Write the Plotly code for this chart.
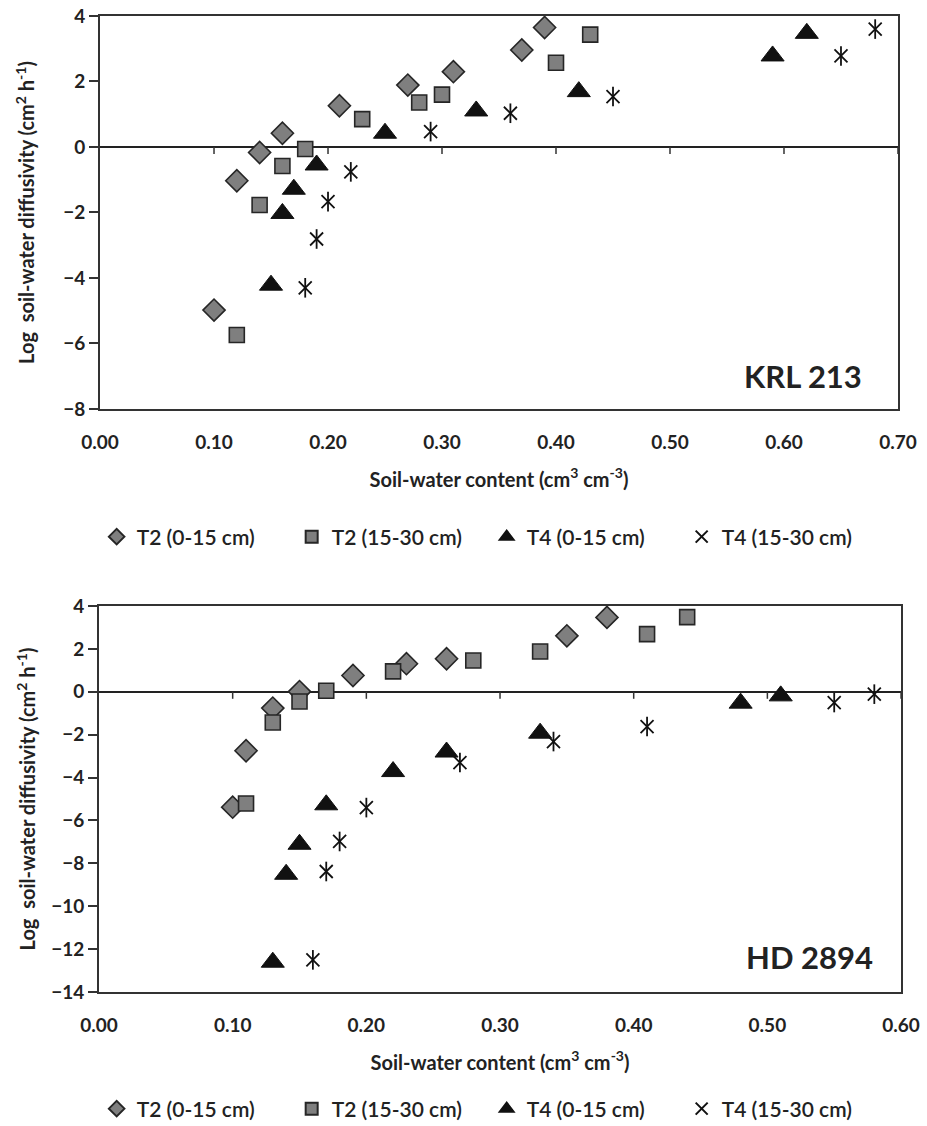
import plotly.graph_objects as go

# ---------------- data: KRL 213 (top) ----------------
krl_t2_0_15_x = [0.10, 0.12, 0.14, 0.16, 0.21, 0.27, 0.31, 0.37, 0.39]
krl_t2_0_15_y = [-4.98, -1.03, -0.17, 0.42, 1.26, 1.89, 2.30, 2.96, 3.65]
krl_t2_15_30_x = [0.12, 0.14, 0.16, 0.18, 0.23, 0.28, 0.30, 0.40, 0.43]
krl_t2_15_30_y = [-5.74, -1.77, -0.58, -0.06, 0.85, 1.36, 1.60, 2.57, 3.43]
krl_t4_0_15_x = [0.15, 0.16, 0.17, 0.19, 0.25, 0.33, 0.42, 0.59, 0.62]
krl_t4_0_15_y = [-4.22, -2.03, -1.29, -0.55, 0.42, 1.10, 1.69, 2.78, 3.47]
krl_t4_15_30_x = [0.18, 0.19, 0.20, 0.22, 0.29, 0.36, 0.45, 0.65, 0.68]
krl_t4_15_30_y = [-4.30, -2.81, -1.67, -0.76, 0.47, 1.03, 1.54, 2.78, 3.60]

# ---------------- data: HD 2894 (bottom) ----------------
hd_t2_0_15_x = [0.10, 0.11, 0.13, 0.15, 0.19, 0.23, 0.26, 0.35, 0.38]
hd_t2_0_15_y = [-5.38, -2.75, -0.76, 0.01, 0.76, 1.31, 1.54, 2.61, 3.47]
hd_t2_15_30_x = [0.11, 0.13, 0.15, 0.17, 0.22, 0.28, 0.33, 0.41, 0.44]
hd_t2_15_30_y = [-5.21, -1.43, -0.45, 0.05, 0.95, 1.46, 1.88, 2.69, 3.48]
hd_t4_0_15_x = [0.13, 0.14, 0.15, 0.17, 0.22, 0.26, 0.33, 0.48, 0.51]
hd_t4_0_15_y = [-12.61, -8.51, -7.11, -5.27, -3.72, -2.81, -1.93, -0.53, -0.19]
hd_t4_15_30_x = [0.16, 0.17, 0.18, 0.20, 0.27, 0.34, 0.41, 0.55, 0.58]
hd_t4_15_30_y = [-12.50, -8.38, -6.98, -5.40, -3.30, -2.32, -1.62, -0.50, -0.11]

series_names = ["T2 (0-15 cm)", "T2 (15-30 cm)", "T4 (0-15 cm)", "T4 (15-30 cm)"]
top_xticks = [0.0, 0.1, 0.2, 0.3, 0.4, 0.5, 0.6, 0.7]
bot_xticks = [0.0, 0.1, 0.2, 0.3, 0.4, 0.5, 0.6]
top_yticks = [-8, -6, -4, -2, 0, 2, 4]
bot_yticks = [-14, -12, -10, -8, -6, -4, -2, 0, 2, 4]
panel_labels = ["KRL 213", "HD 2894"]

FONT = "Lato"
GRAY = "#7f7f7f"
EDGE = "#262626"
BLACK = "#111111"
TXT = "#222222"

fig = go.Figure()


def add_panel(xa, ya, leg, data):
    (x1, y1), (x2, y2), (x3, y3), (x4, y4) = data
    fig.add_trace(go.Scatter(x=x1, y=y1, mode="markers", name=series_names[0],
                             xaxis=xa, yaxis=ya, legend=leg,
                             marker=dict(symbol="diamond", size=17, color=GRAY,
                                         line=dict(color=EDGE, width=1.6))))
    fig.add_trace(go.Scatter(x=x2, y=y2, mode="markers", name=series_names[1],
                             xaxis=xa, yaxis=ya, legend=leg,
                             marker=dict(symbol="square", size=15, color=GRAY,
                                         line=dict(color=EDGE, width=1.6))))
    fig.add_trace(go.Scatter(x=x3, y=y3, mode="markers", name=series_names[2],
                             xaxis=xa, yaxis=ya, legend=leg,
                             marker=dict(symbol="triangle-up", size=20, color=BLACK,
                                         line=dict(color=BLACK, width=1))))
    fig.add_trace(go.Scatter(x=x4, y=y4, mode="markers", name=series_names[3],
                             xaxis=xa, yaxis=ya, legend=leg,
                             marker=dict(symbol="x-thin-open", size=13, color=BLACK,
                                         line=dict(color=BLACK, width=1.8))))
    fig.add_trace(go.Scatter(x=x4, y=y4, mode="markers", name=series_names[3],
                             xaxis=xa, yaxis=ya, showlegend=False, hoverinfo="skip",
                             marker=dict(symbol="line-ns-open", size=14, color=BLACK,
                                         line=dict(color=BLACK, width=1.8))))


add_panel("x", "y", "legend",
          [(krl_t2_0_15_x, krl_t2_0_15_y), (krl_t2_15_30_x, krl_t2_15_30_y),
           (krl_t4_0_15_x, krl_t4_0_15_y), (krl_t4_15_30_x, krl_t4_15_30_y)])
add_panel("x2", "y2", "legend2",
          [(hd_t2_0_15_x, hd_t2_0_15_y), (hd_t2_15_30_x, hd_t2_15_30_y),
           (hd_t4_0_15_x, hd_t4_0_15_y), (hd_t4_15_30_x, hd_t4_15_30_y)])

tickfont = dict(family=FONT, size=19, color=TXT, weight="bold")
titlefont = dict(family=FONT, size=20, color=TXT, weight="bold")

xcommon = dict(showline=True, mirror=True, linecolor="#333333", linewidth=2,
               showgrid=False, zeroline=False, ticks="outside", ticklen=15,
               tickcolor="rgba(0,0,0,0)", tickformat=".2f", tickfont=tickfont,
               automargin=False,
               title=dict(text="Soil-water content (cm<sup>3</sup> cm<sup>-3</sup>)",
                          font=titlefont, standoff=21))
ycommon = dict(showline=True, mirror=True, linecolor="#333333", linewidth=2,
               showgrid=False, zeroline=True, zerolinecolor="#222222", zerolinewidth=1.5,
               ticks="outside", ticklen=9, tickwidth=1.5, tickcolor="#333333",
               tickfont=tickfont, automargin=False)
ytitle = "Log  soil-water diffusivity (cm<sup>2</sup> h<sup>-1</sup>)"

legfont = dict(family=FONT, size=21, color=TXT, weight=600)

fig.update_layout(
    width=927, height=1126,
    margin=dict(l=0, r=0, t=0, b=0, autoexpand=False),
    paper_bgcolor="white", plot_bgcolor="white",
    showlegend=True,
    xaxis=dict(xcommon, domain=[0.1079, 0.9687], range=[0, 0.7], tickvals=top_xticks, anchor="y"),
    yaxis=dict(ycommon, domain=[0.6368, 0.9858], range=[-8, 4], tickvals=top_yticks, anchor="x",
               title=dict(text=ytitle, font=titlefont, standoff=23)),
    xaxis2=dict(xcommon, domain=[0.1068, 0.9720], range=[0, 0.6], tickvals=bot_xticks, anchor="y2"),
    yaxis2=dict(ycommon, domain=[0.1190, 0.4618], range=[-14, 4], tickvals=bot_yticks, anchor="x2",
                title=dict(text=ytitle, font=titlefont, standoff=10)),
    legend=dict(orientation="h", x=0.525, xanchor="center", y=1 - 537 / 1126, yanchor="middle",
                font=legfont, entrywidth=150, itemwidth=30,
                itemsizing="constant", bgcolor="rgba(0,0,0,0)"),
    legend2=dict(orientation="h", x=0.525, xanchor="center", y=1 - 1109 / 1126, yanchor="middle",
                 font=legfont, entrywidth=150, itemwidth=30,
                 itemsizing="constant", bgcolor="rgba(0,0,0,0)"),
)

# tick marks on the zero line
for xr, yr, ticks in (("x", "y", top_xticks), ("x2", "y2", bot_xticks)):
    for t in ticks[1:]:
        fig.add_shape(type="line", xref=xr, yref=yr, x0=t, x1=t,
                      ysizemode="pixel", yanchor=0, y0=0, y1=-7,
                      line=dict(color="#333333", width=1.5))

fig.add_annotation(text=panel_labels[0], xref="x domain", yref="y domain", x=0.958, y=0.03,
                   xanchor="right", yanchor="bottom", showarrow=False,
                   font=dict(family=FONT, size=31, color=TXT, weight="bold"))
fig.add_annotation(text=panel_labels[1], xref="x2 domain", yref="y2 domain", x=0.968, y=0.035,
                   xanchor="right", yanchor="bottom", showarrow=False,
                   font=dict(family=FONT, size=31, color=TXT, weight="bold"))

fig.write_html("out.html")
